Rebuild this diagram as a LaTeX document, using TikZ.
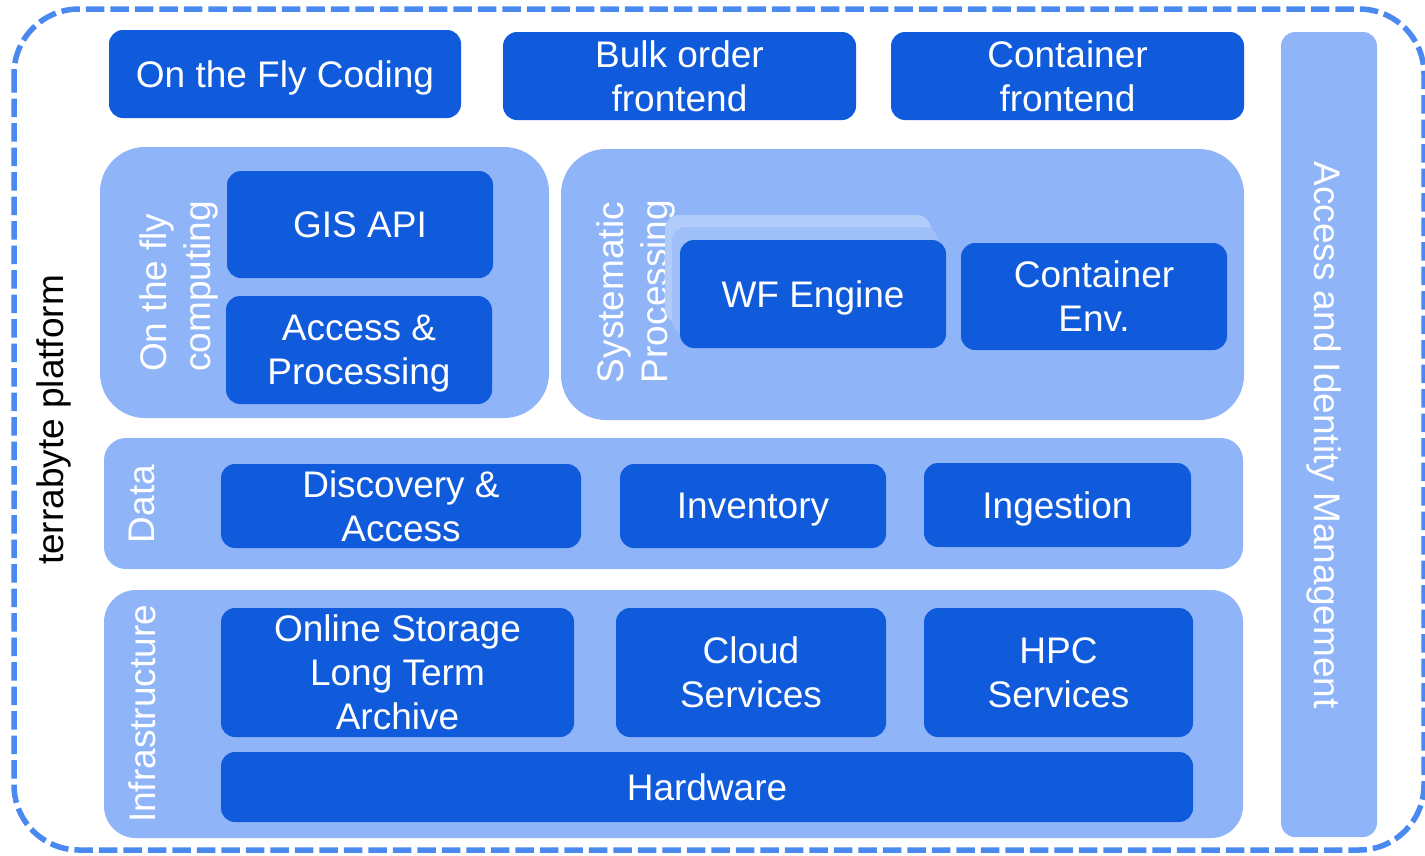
\documentclass[tikz,border=0pt]{standalone}
\usepackage{fontspec}
\setmainfont{Liberation Sans}
\definecolor{darkblue}{RGB}{16,91,220}
\definecolor{lightblue}{RGB}{143,181,248}
\definecolor{borderblue}{RGB}{74,137,240}
\definecolor{shadeA}{RGB}{178,204,249}
\definecolor{shadeB}{RGB}{158,191,248}
\tikzset{
  txt/.style={font=\fontsize{37}{44}\selectfont, align=center, inner sep=0pt},
  dbox/.style={fill=darkblue, rounded corners=14pt, draw=none, inner sep=0pt},
  dtext/.style={txt, text=white, yshift=-3.65pt},
  lbox/.style={fill=lightblue, draw=none, inner sep=0pt},
  grplabel/.style={txt, text=white, rotate=90, align=left},
}
% give every caption the same first-line height and last-line depth
\newcommand\evenlines[1]{\vphantom{Ag}#1\vphantom{g}}
% dark box with centred white caption: name, centre, width, height, text
\newcommand\darkblock[5]{%
  \node[dbox, minimum width=#3, minimum height=#4] (#1) at #2 {};
  \node[dtext] (#1-text) at (#1.center) {\evenlines{#5}};}
\begin{document}
\begin{tikzpicture}[x=1pt, y=-1pt]
\useasboundingbox (0,0) rectangle (1425,855);

% outer platform frame
\draw[borderblue, line width=5.5pt, dash pattern=on 18.5pt off 6pt, rounded corners=65pt]
  (14,9) rectangle (1424,850);
\node[txt, rotate=90] (platform) at (53.6,420) {\evenlines{terrabyte platform}};

% front-end row
\darkblock{fly}{(285,74)}{352pt}{88pt}{On the Fly Coding}
\darkblock{bulk}{(679.5,76)}{353pt}{88pt}{Bulk order\\frontend}
\darkblock{cfront}{(1067.5,76)}{353pt}{88pt}{Container\\frontend}

% access and identity management column
\node[lbox, rounded corners=14pt, minimum width=96pt, minimum height=805pt] (aim) at (1329,434.5) {};
\node[txt, text=white, rotate=-90] (aimlabel) at (1324.4,435) {\evenlines{Access and Identity Management}};

% on the fly computing
\node[lbox, rounded corners=45pt, minimum width=449pt, minimum height=271pt] (grpfly) at (324.5,282.5) {};
\node[grplabel] (flylabel) at (178.6,286.5) {\evenlines{On the fly\\computing}};
\darkblock{gis}{(360,224.5)}{266pt}{107pt}{GIS API}
\darkblock{accproc}{(359,350)}{266pt}{108pt}{Access \&\\Processing}

% systematic processing with stacked workflow layers
\node[lbox, rounded corners=45pt, minimum width=683pt, minimum height=271pt] (grpsys) at (902.5,284.5) {};
\node[grplabel] (syslabel) at (635.6,291.5) {\evenlines{Systematic\\Processing}};
\node[fill=shadeA, rounded corners=14pt, inner sep=0pt, minimum width=266pt, minimum height=108pt] (wfback) at (798,269) {};
\node[fill=shadeB, rounded corners=14pt, inner sep=0pt, minimum width=266pt, minimum height=108pt] (wfmid) at (805,281) {};
\darkblock{wf}{(813,294)}{266pt}{108pt}{WF Engine}
\darkblock{cenv}{(1094,296.5)}{266pt}{107pt}{Container\\Env.}

% data layer
\node[lbox, rounded corners=22pt, minimum width=1139pt, minimum height=131pt] (grpdata) at (673.5,503.5) {};
\node[grplabel] (datalabel) at (145.6,504) {\evenlines{Data}};
\darkblock{disc}{(401,506)}{360pt}{84pt}{Discovery \&\\Access}
\darkblock{inv}{(753,506)}{266pt}{84pt}{Inventory}
\darkblock{ing}{(1057.5,505)}{267pt}{84pt}{Ingestion}

% infrastructure layer
\node[lbox, rounded corners=32pt, minimum width=1139pt, minimum height=248pt] (grpinfra) at (673.5,714) {};
\node[grplabel] (infralabel) at (145.6,714) {\evenlines{Infrastructure}};
\darkblock{online}{(397.5,672.5)}{353pt}{129pt}{Online Storage\\Long Term\\Archive}
\darkblock{cloud}{(751,672.5)}{270pt}{129pt}{Cloud\\Services}
\darkblock{hpc}{(1058.5,672.5)}{269pt}{129pt}{HPC\\Services}
\darkblock{hw}{(707,787)}{972pt}{70pt}{Hardware}
\end{tikzpicture}
\end{document}
